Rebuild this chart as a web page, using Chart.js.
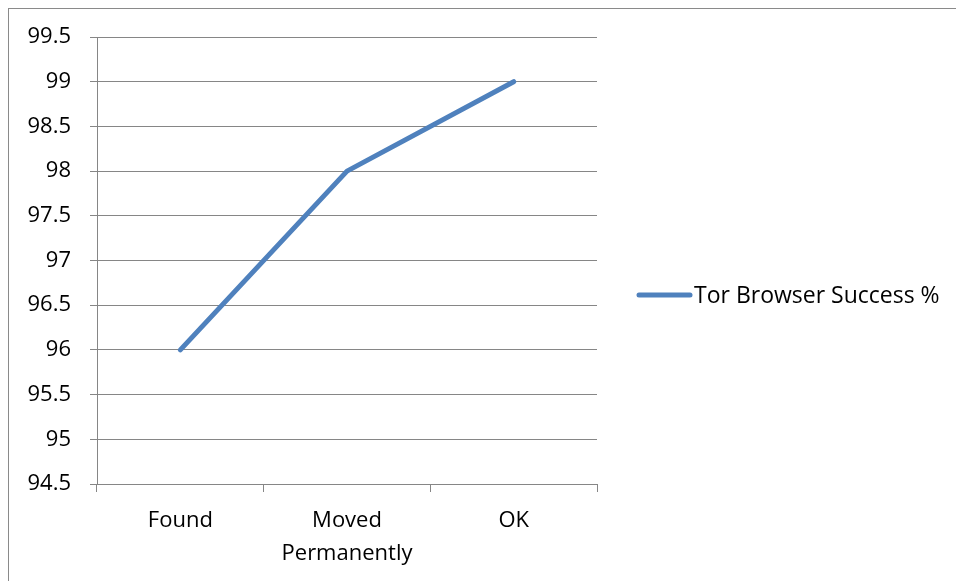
<!DOCTYPE html>
<html>
<head>
<meta charset="utf-8">
<script src="https://cdn.jsdelivr.net/npm/chart.js@4/dist/chart.umd.min.js"></script>
<style>
  html, body { margin: 0; padding: 0; background: #fff; overflow: hidden; }
  #wrap { position: relative; width: 956px; height: 581px; }
  #frame { position: absolute; left: 8px; top: 8px; width: 2000px; height: 2000px; border: 1.5px solid #8a8a8a; box-sizing: border-box; pointer-events: none; }
  canvas { position: absolute; left: 0; top: 0; }
</style>
</head>
<body>
<div id="wrap">
  <canvas id="c" width="956" height="581"></canvas>
  <div id="frame"></div>
</div>
<script>
const categories = [['Found'], ['Moved', 'Permanently'], ['OK']];
const seriesLabel = 'Tor Browser Success %';
const successValues = [96, 98, 99];
const yTicks = [94.5, 95, 95.5, 96, 96.5, 97, 97.5, 98, 98.5, 99, 99.5];

const FONT = "'Open Sans', 'Noto Sans', sans-serif";
const LINE_COLOR = '#4F81BD';
const GRID_COLOR = '#868686';

const legendPlugin = {
  id: 'customLegend',
  afterDraw(chart) {
    const ctx = chart.ctx;
    const ds = chart.data.datasets[0];
    const y = 295;
    ctx.save();
    ctx.strokeStyle = ds.borderColor;
    ctx.lineWidth = 5;
    ctx.lineCap = 'round';
    ctx.beginPath();
    ctx.moveTo(639, y);
    ctx.lineTo(690, y);
    ctx.stroke();
    ctx.fillStyle = '#000';
    ctx.font = '23px ' + FONT;
    ctx.textBaseline = 'middle';
    ctx.textAlign = 'left';
    ctx.fillText(ds.label, 694, y + 1);
    ctx.restore();
  }
};

new Chart(document.getElementById('c'), {
  type: 'line',
  data: {
    labels: categories,
    datasets: [{
      label: seriesLabel,
      data: successValues,
      borderColor: LINE_COLOR,
      backgroundColor: LINE_COLOR,
      borderWidth: 5,
      pointRadius: 0,
      pointHoverRadius: 0,
      tension: 0,
      borderCapStyle: 'round',
      borderJoinStyle: 'round',
      fill: false
    }]
  },
  options: {
    responsive: false,
    animation: false,
    devicePixelRatio: 1,
    layout: { padding: { left: 0, right: 359, top: 37, bottom: 0 } },
    plugins: {
      legend: { display: false },
      tooltip: { enabled: false }
    },
    scales: {
      x: {
        type: 'category',
        offset: true,
        afterFit(s) { s.height = 97; },
        grid: {
          display: true,
          offset: true,
          drawOnChartArea: false,
          drawTicks: true,
          tickLength: 8,
          color: GRID_COLOR,
          lineWidth: 1
        },
        border: { display: true, color: GRID_COLOR, width: 1 },
        ticks: {
          color: '#000',
          font: { family: FONT, size: 22, lineHeight: 1.5 },
          padding: 12,
          maxRotation: 0,
          autoSkip: false
        }
      },
      y: {
        min: 94.5,
        max: 99.5,
        afterFit(s) { s.width = 97; },
        afterBuildTicks(s) { s.ticks = yTicks.map(v => ({ value: v })); },
        grid: {
          color: GRID_COLOR,
          lineWidth: 1,
          drawTicks: true,
          tickLength: 7
        },
        border: { display: true, color: GRID_COLOR, width: 1 },
        ticks: {
          color: '#000',
          font: { family: FONT, size: 22 },
          padding: 19,
          callback: v => String(v)
        }
      }
    }
  },
  plugins: [legendPlugin]
});
</script>
</body>
</html>
